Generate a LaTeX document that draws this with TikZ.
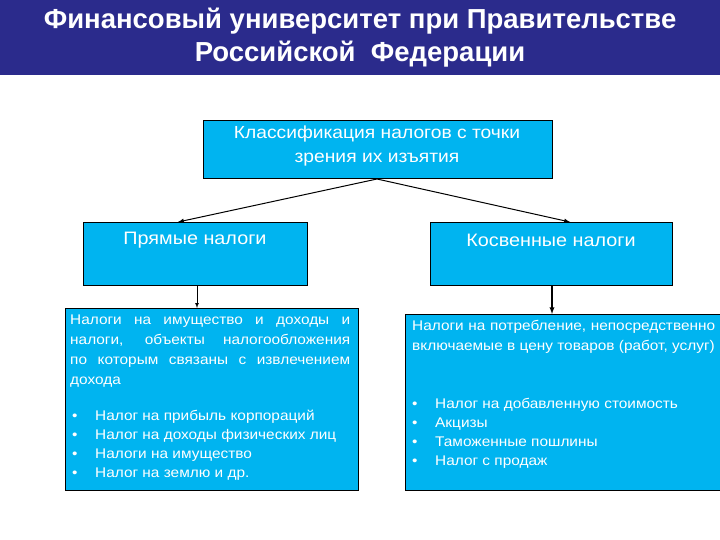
\documentclass[tikz,border=0pt]{standalone}
\usepackage{fontspec}
\setmainfont[FakeStretch=1.1]{Liberation Sans}
\newfontfamily\hdrfont{Liberation Sans}
\definecolor{hdr}{HTML}{2B2B8C}
\definecolor{bx}{HTML}{00B4F0}
\begin{document}
\begin{tikzpicture}[x=1pt,y=-1pt,
  box/.style={draw=black,fill=bx,line width=0.8pt},
  arr/.style={-latex,line width=1pt},
  txt/.style={text=white,inner sep=0pt,font=\fontsize{14}{20}\selectfont,align=left}]
\useasboundingbox (0,0) rectangle (720,540);
\fill[hdr] (0,0) rectangle (720,75);
\node[text=white,font=\hdrfont\bfseries\fontsize{27.5}{33}\selectfont,align=center] (h) at (360,38) {Финансовый университет при Правительстве\\Российской \ Федерации};
\draw[box] (203,120) rectangle (552,178);
\node[txt,align=center,font=\fontsize{17.5}{24}\selectfont] (top) at (377,146) {Классификация налогов с точки\\зрения их изъятия};
\coordinate (tb) at (377,179);
\draw[box] (83,222) rectangle (307,285);
\node[txt,font=\fontsize{18}{20}\selectfont] (l) at (195,240) {Прямые налоги};
\draw[box] (430,222) rectangle (672,285);
\node[txt,font=\fontsize{18}{20}\selectfont] (r) at (551,240) {Косвенные налоги};
\coordinate (la) at (178,222);
\coordinate (ra) at (570,222);
\draw[arr] (tb) -- (la);
\draw[arr] (tb) -- (ra);
\draw[box] (65,308) rectangle (358,490);
\draw[box] (405,314) rectangle (721,490);
\coordinate (lb) at (197,285);
\coordinate (lt) at (197,308);
\coordinate (rb) at (552,285);
\coordinate (rt) at (552,314);
\draw[arr,line width=0.7pt] (lb) -- (lt);
\draw[arr,line width=1.3pt] (rb) -- (rt);
\node[txt,anchor=north west,text width=280pt,align=justify] (lt1) at (70,315) {Налоги на имущество и доходы и налоги, объекты налогообложения по которым связаны с извлечением дохода};
\node[txt,anchor=north west,font=\fontsize{14}{19}\selectfont] (ll) at (72,410) {%
\makebox[23pt][l]{•}Налог на прибыль корпораций\\
\makebox[23pt][l]{•}Налог на доходы физических лиц\\
\makebox[23pt][l]{•}Налоги на имущество\\
\makebox[23pt][l]{•}Налог на землю и др.};
\node[txt,anchor=north west,text width=303pt,align=justify] (rt1) at (412,320) {Налоги на потребление, непосредственно включаемые в цену товаров (работ, услуг)};
\node[txt,anchor=north west,font=\fontsize{14}{19}\selectfont] (rl) at (412,398) {%
\makebox[23pt][l]{•}Налог на добавленную стоимость\\
\makebox[23pt][l]{•}Акцизы\\
\makebox[23pt][l]{•}Таможенные пошлины\\
\makebox[23pt][l]{•}Налог с продаж};
\end{tikzpicture}
\end{document}
